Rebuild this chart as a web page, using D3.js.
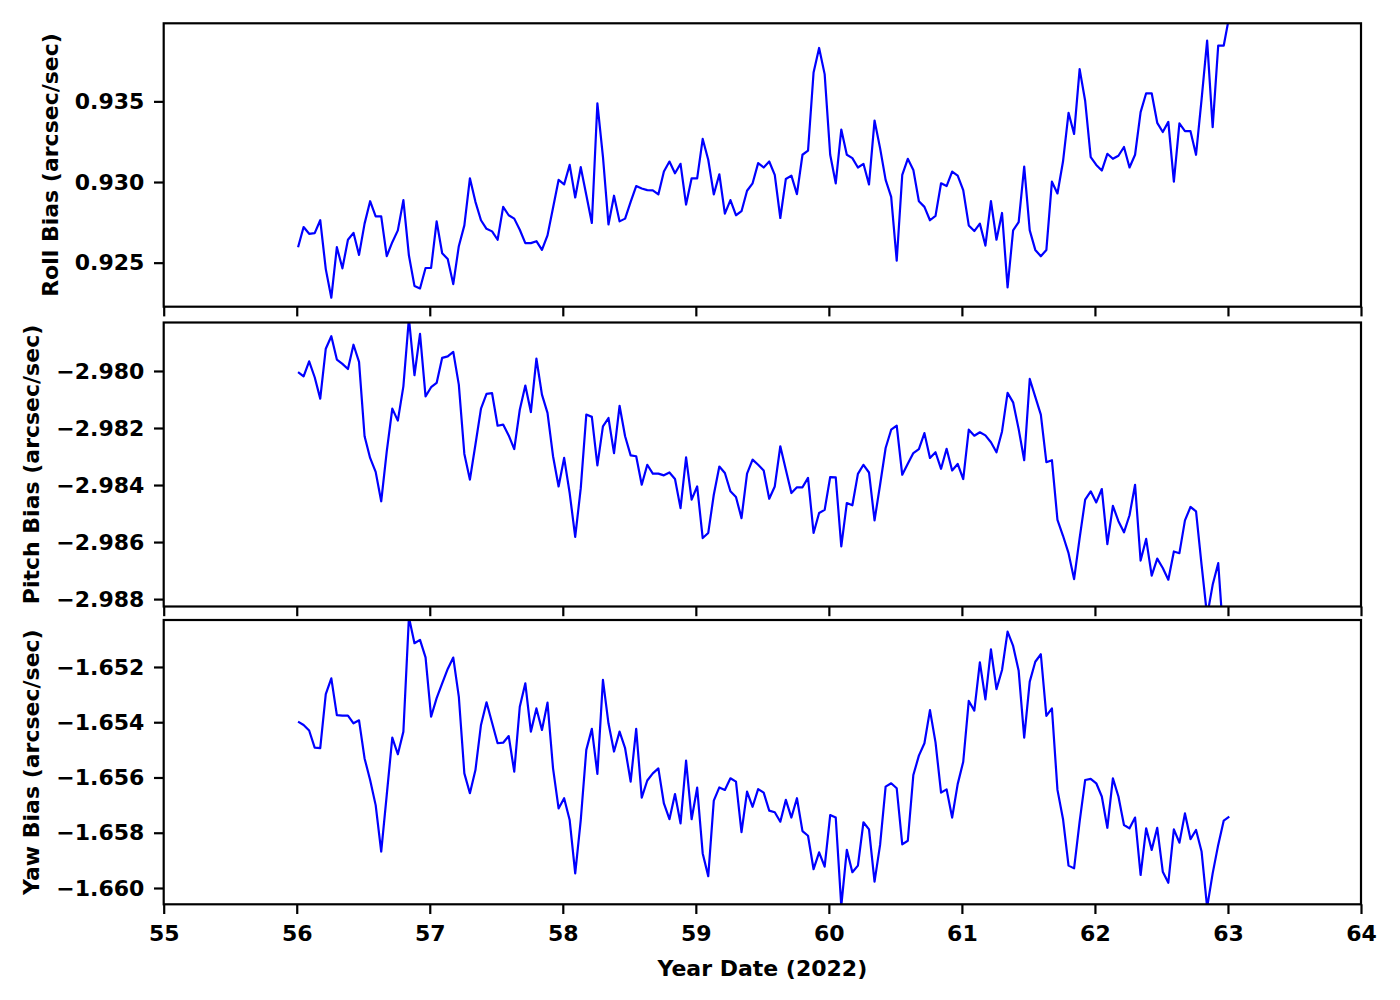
<!DOCTYPE html>
<html>
<head>
<meta charset="utf-8">
<script src="https://cdn.jsdelivr.net/npm/d3@7"></script>
<style>
  html, body { margin: 0; padding: 0; background: #fff; }
  svg { display: block; }
  text { font-family: "DejaVu Sans", sans-serif; font-weight: bold; }
</style>
</head>
<body>
<svg id="chart" width="1400" height="1000"></svg>
<script>
// ---------------- data ----------------
const startDay = 56.01;       // first sample (day of year 2022)
const stepDay = 1 / 24;       // hourly samples

const xTickValues = [55, 56, 57, 58, 59, 60, 61, 62, 63, 64];
const rollTickValues = [0.925, 0.930, 0.935];
const pitchTickValues = [-2.988, -2.986, -2.984, -2.982, -2.980];
const yawTickValues = [-1.660, -1.658, -1.656, -1.654, -1.652];

const rollBias = [
0.92596,0.92721,0.92679,0.92683,0.92763,0.92460,0.92283,0.92596,0.92465,0.92642,
0.92685,0.92548,0.92742,0.92881,0.92787,0.92787,0.92540,0.92627,0.92700,0.92888,
0.92544,0.92356,0.92340,0.92467,0.92467,0.92756,0.92558,0.92523,0.92367,0.92602,
0.92731,0.93023,0.92877,0.92763,0.92710,0.92694,0.92642,0.92846,0.92794,0.92773,
0.92704,0.92621,0.92621,0.92633,0.92579,0.92669,0.92840,0.93013,0.92985,0.93106,
0.92904,0.93092,0.92919,0.92746,0.93488,0.93158,0.92737,0.92915,0.92756,0.92773,
0.92877,0.92975,0.92960,0.92950,0.92948,0.92923,0.93065,0.93127,0.93054,0.93113,
0.92860,0.93023,0.93023,0.93267,0.93138,0.92923,0.93048,0.92804,0.92888,0.92794,
0.92819,0.92946,0.92992,0.93117,0.93090,0.93127,0.93044,0.92777,0.93019,0.93040,
0.92925,0.93169,0.93194,0.93679,0.93831,0.93669,0.93169,0.92992,0.93325,0.93169,
0.93148,0.93090,0.93113,0.92985,0.93381,0.93210,0.93013,0.92908,0.92513,0.93044,
0.93144,0.93075,0.92881,0.92846,0.92763,0.92790,0.92992,0.92975,0.93065,0.93040,
0.92950,0.92731,0.92696,0.92742,0.92606,0.92881,0.92642,0.92808,0.92346,0.92700,
0.92752,0.93096,0.92700,0.92579,0.92540,0.92579,0.93002,0.92929,0.93127,0.93429,
0.93298,0.93700,0.93502,0.93154,0.93106,0.93071,0.93175,0.93144,0.93163,0.93217,
0.93090,0.93169,0.93433,0.93550,0.93550,0.93367,0.93310,0.93373,0.93002,0.93363,
0.93315,0.93315,0.93169,0.93513,0.93877,0.93340,0.93846,0.93846,0.94030
];

const pitchBias = [
-2.98004,-2.98019,-2.97966,-2.98022,-2.98097,-2.97922,-2.97878,-2.97960,-2.97975,-2.97993,
-2.97908,-2.97968,-2.98229,-2.98305,-2.98354,-2.98457,-2.98282,-2.98132,-2.98174,-2.98054,
-2.97815,-2.98015,-2.97870,-2.98089,-2.98057,-2.98042,-2.97954,-2.97949,-2.97933,-2.98048,
-2.98291,-2.98381,-2.98258,-2.98132,-2.98080,-2.98078,-2.98192,-2.98188,-2.98226,-2.98274,
-2.98136,-2.98051,-2.98144,-2.97957,-2.98083,-2.98147,-2.98299,-2.98405,-2.98305,-2.98428,
-2.98582,-2.98411,-2.98153,-2.98161,-2.98331,-2.98194,-2.98165,-2.98288,-2.98122,-2.98229,
-2.98296,-2.98299,-2.98399,-2.98329,-2.98360,-2.98360,-2.98366,-2.98356,-2.98379,-2.98481,
-2.98303,-2.98451,-2.98405,-2.98586,-2.98568,-2.98434,-2.98335,-2.98358,-2.98422,-2.98442,
-2.98516,-2.98360,-2.98311,-2.98329,-2.98349,-2.98448,-2.98405,-2.98264,-2.98346,-2.98428,
-2.98408,-2.98408,-2.98375,-2.98568,-2.98498,-2.98487,-2.98372,-2.98373,-2.98615,-2.98463,
-2.98471,-2.98361,-2.98329,-2.98356,-2.98524,-2.98399,-2.98270,-2.98206,-2.98192,-2.98364,
-2.98325,-2.98288,-2.98274,-2.98218,-2.98305,-2.98285,-2.98343,-2.98273,-2.98349,-2.98326,
-2.98379,-2.98206,-2.98227,-2.98215,-2.98226,-2.98250,-2.98285,-2.98212,-2.98077,-2.98110,
-2.98204,-2.98313,-2.98028,-2.98091,-2.98153,-2.98320,-2.98313,-2.98522,-2.98578,-2.98639,
-2.98730,-2.98586,-2.98451,-2.98422,-2.98461,-2.98414,-2.98607,-2.98473,-2.98527,-2.98566,
-2.98506,-2.98399,-2.98665,-2.98589,-2.98718,-2.98658,-2.98691,-2.98732,-2.98633,-2.98639,
-2.98524,-2.98477,-2.98492,-2.98680,-2.98860,-2.98750,-2.98674,-2.98950,-2.99000
];

const yawBias = [
-1.65398,-1.65410,-1.65430,-1.65492,-1.65494,-1.65298,-1.65241,-1.65374,-1.65376,-1.65376,
-1.65404,-1.65393,-1.65531,-1.65609,-1.65700,-1.65868,-1.65663,-1.65456,-1.65516,-1.65434,
-1.65020,-1.65114,-1.65102,-1.65165,-1.65380,-1.65313,-1.65259,-1.65207,-1.65166,-1.65307,
-1.65585,-1.65657,-1.65573,-1.65410,-1.65328,-1.65402,-1.65476,-1.65474,-1.65450,-1.65579,
-1.65344,-1.65259,-1.65434,-1.65350,-1.65428,-1.65329,-1.65567,-1.65712,-1.65675,-1.65754,
-1.65947,-1.65754,-1.65500,-1.65424,-1.65587,-1.65247,-1.65404,-1.65506,-1.65434,-1.65494,
-1.65615,-1.65424,-1.65673,-1.65611,-1.65585,-1.65567,-1.65694,-1.65751,-1.65660,-1.65766,
-1.65539,-1.65751,-1.65637,-1.65875,-1.65957,-1.65684,-1.65636,-1.65645,-1.65603,-1.65615,
-1.65798,-1.65651,-1.65706,-1.65642,-1.65655,-1.65720,-1.65726,-1.65760,-1.65681,-1.65745,
-1.65675,-1.65794,-1.65811,-1.65932,-1.65871,-1.65923,-1.65736,-1.65745,-1.66065,-1.65862,
-1.65943,-1.65919,-1.65762,-1.65788,-1.65977,-1.65844,-1.65633,-1.65621,-1.65639,-1.65842,
-1.65829,-1.65591,-1.65521,-1.65476,-1.65356,-1.65473,-1.65655,-1.65643,-1.65745,-1.65624,
-1.65543,-1.65323,-1.65358,-1.65183,-1.65317,-1.65136,-1.65280,-1.65211,-1.65072,-1.65124,
-1.65214,-1.65456,-1.65253,-1.65181,-1.65154,-1.65377,-1.65350,-1.65645,-1.65750,-1.65919,
-1.65929,-1.65760,-1.65609,-1.65605,-1.65621,-1.65669,-1.65782,-1.65603,-1.65669,-1.65772,
-1.65784,-1.65745,-1.65953,-1.65784,-1.65862,-1.65782,-1.65941,-1.65981,-1.65788,-1.65836,
-1.65730,-1.65823,-1.65790,-1.65868,-1.66070,-1.65947,-1.65844,-1.65756,-1.65742
];

// ---------------- layout ----------------
const svg = d3.select("#chart");
const left = 163.7, right = 1361;
const fontPx = 22, tickLen = 9.7, tickPad = 9.7, spineW = 2.2, lineW = 2.2;

const x = d3.scaleLinear().domain([55, 64]).range([left, right]);

const panels = [
  { values: rollBias,  domain: [0.92227, 0.93984],   top: 23.3,  bottom: 306.7,
    ticks: rollTickValues,  label: "Roll Bias (arcsec/sec)",  labelX: 50, showX: false },
  { values: pitchBias, domain: [-2.98826, -2.97830], top: 322.5, bottom: 606.5,
    ticks: pitchTickValues, label: "Pitch Bias (arcsec/sec)", labelX: 31, showX: false },
  { values: yawBias,   domain: [-1.66059, -1.65030], top: 620,   bottom: 904.3,
    ticks: yawTickValues,   label: "Yaw Bias (arcsec/sec)",   labelX: 31, showX: true }
];

const fmt = d3.format(".3f");

panels.forEach((p, k) => {
  const y = d3.scaleLinear().domain(p.domain).range([p.bottom, p.top]);
  const g = svg.append("g");

  const clipId = "clip" + k;
  svg.append("clipPath").attr("id", clipId)
    .append("rect")
    .attr("x", left).attr("y", p.top)
    .attr("width", right - left).attr("height", p.bottom - p.top);

  const data = p.values.map((v, i) => ({ t: startDay + i * stepDay, v }));
  const line = d3.line().x(d => x(d.t)).y(d => y(d.v));

  g.append("path")
    .datum(data)
    .attr("clip-path", `url(#${clipId})`)
    .attr("fill", "none")
    .attr("stroke", "#0000ff")
    .attr("stroke-width", lineW)
    .attr("stroke-linejoin", "round")
    .attr("stroke-linecap", "butt")
    .attr("d", line);

  // y axis
  const yAxis = d3.axisLeft(y).tickValues(p.ticks).tickFormat(fmt)
    .tickSize(tickLen).tickPadding(tickPad);
  const ya = g.append("g").attr("transform", `translate(${left},0)`).call(yAxis);
  ya.select(".domain").remove();
  ya.selectAll(".tick line").attr("stroke", "#000").attr("stroke-width", spineW);
  ya.selectAll(".tick text").attr("fill", "#000")
    .style("font-size", fontPx + "px").style("font-weight", "bold")
    .style("font-family", "'DejaVu Sans', sans-serif");

  // x axis
  const xAxis = d3.axisBottom(x).tickValues(xTickValues)
    .tickFormat(p.showX ? d3.format("d") : () => "")
    .tickSize(tickLen).tickPadding(tickPad + 1.5);
  const xa = g.append("g").attr("transform", `translate(0,${p.bottom})`).call(xAxis);
  xa.select(".domain").remove();
  xa.selectAll(".tick line").attr("stroke", "#000").attr("stroke-width", spineW);
  xa.selectAll(".tick text").attr("fill", "#000")
    .style("font-size", fontPx + "px").style("font-weight", "bold")
    .style("font-family", "'DejaVu Sans', sans-serif");

  // spines
  g.append("rect")
    .attr("x", left).attr("y", p.top)
    .attr("width", right - left).attr("height", p.bottom - p.top)
    .attr("fill", "none").attr("stroke", "#000").attr("stroke-width", spineW);

  // y label
  g.append("text")
    .attr("transform", `translate(${p.labelX},${(p.top + p.bottom) / 2}) rotate(-90)`)
    .attr("text-anchor", "middle")
    .attr("dominant-baseline", "central")
    .style("font-size", fontPx + "px")
    .text(p.label);
});

// x label
svg.append("text")
  .attr("x", (left + right) / 2)
  .attr("y", 976)
  .attr("text-anchor", "middle")
  .style("font-size", fontPx + "px")
  .text("Year Date (2022)");
</script>
</body>
</html>
